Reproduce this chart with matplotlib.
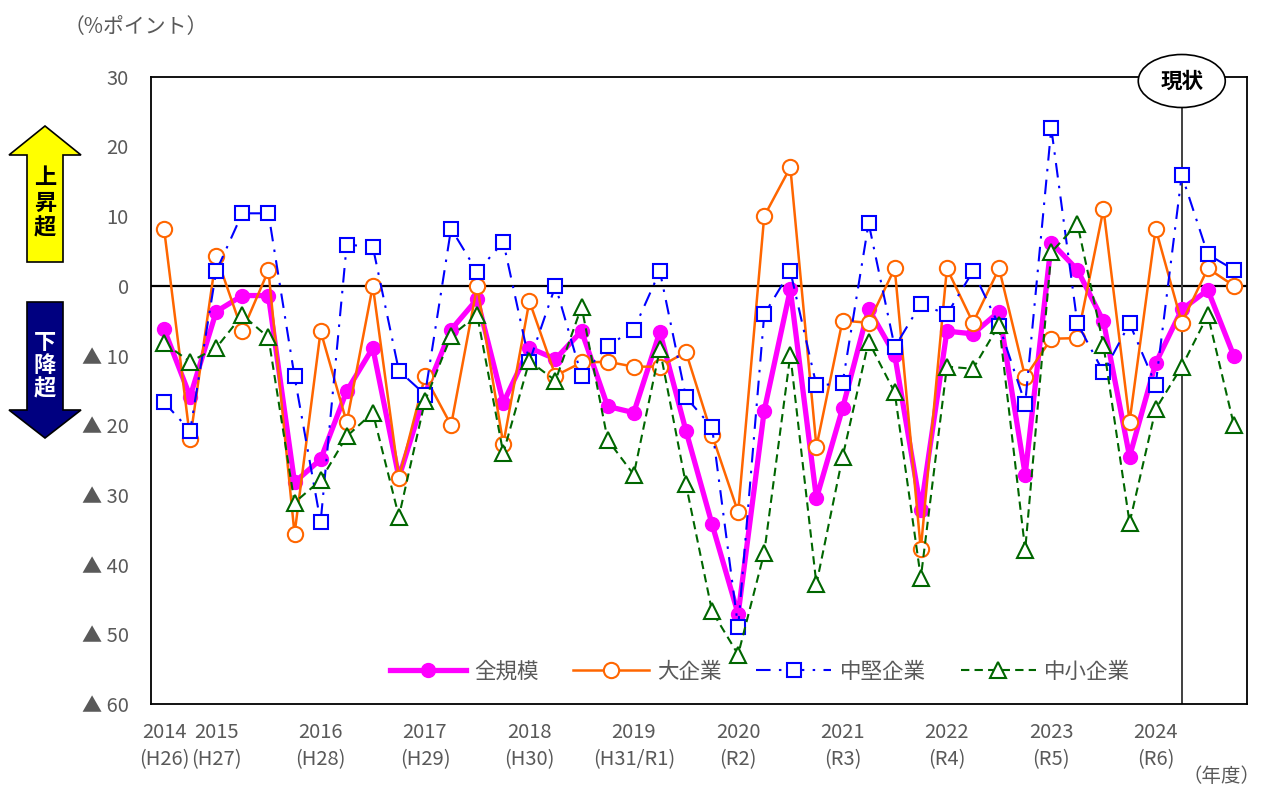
import numpy as np
import matplotlib
matplotlib.use('Agg')
import matplotlib.pyplot as plt
from matplotlib.patches import Polygon, Ellipse

plt.rcParams['font.family'] = ['Noto Sans CJK JP', 'DejaVu Sans']

# quarterly survey points (2014 - 2024)
zenkibo = [-6.2, -15.9, -3.7, -1.4, -1.4, -28.2, -24.9, -15.1, -8.9, -27.5,
           -15.5, -6.3, -1.9, -16.8, -8.9, -10.5, -6.5, -17.3, -18.2, -6.6,
           -20.8, -34.2, -47.1, -17.9, -0.5, -30.5, -17.6, -3.3, -9.9, -32.1,
           -6.5, -6.9, -3.7, -27.1, 6.2, 2.3, -5.1, -24.5, -11.1, -3.4,
           -0.6, -10.1]
daikigyo = [8.2, -22.0, 4.3, -6.5, 2.2, -35.6, -6.5, -19.6, 0.0, -27.6,
            -13.0, -20.0, 0.0, -22.7, -2.2, -12.9, -11.0, -10.9, -11.6, -11.6,
            -9.5, -21.4, -32.5, 10.0, 17.0, -23.1, -5.0, -5.3, 2.5, -37.8,
            2.5, -5.3, 2.5, -13.1, -7.6, -7.5, 11.0, -19.5, 8.2, -5.3,
            2.5, 0.0]
chuken = [-16.7, -20.8, 2.1, 10.4, 10.4, -13.0, -33.9, 5.9, 5.6, -12.2,
          -15.6, 8.2, 2.0, 6.3, -10.9, 0.0, -12.9, -8.6, -6.3, 2.1,
          -16.0, -20.3, -49.0, -4.1, 2.1, -14.3, -14.0, 9.0, -8.8, -2.6,
          -4.1, 2.1, -5.7, -16.9, 22.6, -5.4, -12.4, -5.4, -14.2, 15.9,
          4.5, 2.3]
chusho = [-8.2, -10.9, -8.9, -4.2, -7.4, -31.1, -27.9, -21.6, -18.2, -33.1,
          -16.5, -7.2, -4.2, -24.0, -10.8, -13.6, -3.0, -22.1, -27.1, -9.1,
          -28.5, -46.7, -52.9, -38.3, -9.9, -42.8, -24.6, -8.0, -15.3, -41.9,
          -11.6, -11.9, -5.6, -37.9, 4.8, 8.9, -8.5, -34.0, -17.7, -11.6,
          -4.2, -20.0]

year_pos = [0, 2, 6, 10, 14, 18, 22, 26, 30, 34, 38]
year_labels = ['2014\n(H26)', '2015\n(H27)', '2016\n(H28)', '2017\n(H29)',
               '2018\n(H30)', '2019\n(H31/R1)', '2020\n(R2)', '2021\n(R3)',
               '2022\n(R4)', '2023\n(R5)', '2024\n(R6)']
y_ticks = [30, 20, 10, 0, -10, -20, -30, -40, -50, -60]
y_labels = ['30', '20', '10', '0', '▲ 10', '▲ 20', '▲ 30', '▲ 40', '▲ 50', '▲ 60']
now_idx = 39

GRAY = '#595959'
W, H = 1263, 791


def main():
    fig = plt.figure(figsize=(W / 100, H / 100), dpi=100)
    ax = fig.add_axes([151 / W, 1 - 704 / H, 1096 / W, 627.3 / H])
    x = np.arange(len(zenkibo))

    ax.plot(x, zenkibo, color='#FF00FF', lw=3.8, marker='o', ms=10,
            label='全規模', zorder=3)
    ax.plot(x, daikigyo, color='#FF6600', lw=1.8, marker='o', ms=11,
            mfc='white', mew=1.5, label='大企業', zorder=4)
    ax.plot(x, chuken, color='#0000FF', lw=1.5, marker='s', ms=10,
            mfc='white', mew=1.5, dashes=(7, 4, 1.2, 4), label='中堅企業', zorder=5)
    ax.plot(x, chusho, color='#006600', lw=1.5, marker='^', ms=11,
            mfc='white', mew=1.5, dashes=(4, 2.5), label='中小企業', zorder=6)

    ax.axhline(0, color='black', lw=1.6, zorder=2)
    ax.axvline(now_idx, color='#404040', lw=1.4, zorder=2)

    ax.set_xlim(-0.5, len(zenkibo) - 0.5)
    ax.set_ylim(-60, 30)
    ax.set_xticks(year_pos)
    ax.set_xticklabels(year_labels, fontsize=14.5, color=GRAY, linespacing=1.4)
    ax.set_yticks(y_ticks)
    ax.set_yticklabels(y_labels, fontsize=14.5, color=GRAY)
    ax.tick_params(axis='y', length=0, pad=16)
    ax.tick_params(axis='x', length=0, pad=13)
    for s in ax.spines.values():
        s.set_color('black')
        s.set_linewidth(1.3)

    ax.legend(loc='center', bbox_to_anchor=(0.556, 0.051), ncol=4,
              frameon=False, fontsize=15.5, labelcolor=GRAY, handlelength=3.5,
              handletextpad=0.4, columnspacing=1.6, numpoints=1)

    # overlay in pixel coords for the decorations
    ov = fig.add_axes([0, 0, 1, 1], zorder=10)
    ov.set_xlim(0, W)
    ov.set_ylim(H, 0)
    ov.axis('off')

    up = [(27, 262), (27, 155), (9, 155), (45, 126), (81, 155), (63, 155), (63, 262)]
    down = [(27, 302), (63, 302), (63, 410), (81, 410), (45, 438), (9, 410), (27, 410)]
    ov.add_patch(Polygon(up, closed=True, fc='#FFFF00', ec='black', lw=1.2))
    ov.add_patch(Polygon(down, closed=True, fc='#000080', ec='black', lw=1.2))
    ov.text(45, 203, '上\n昇\n超', ha='center', va='center', fontsize=16,
            fontweight='bold', color='black', linespacing=1.12)
    ov.text(45, 366, '下\n降\n超', ha='center', va='center', fontsize=16,
            fontweight='bold', color='white', linespacing=1.02)

    xn = ax.transData.transform((now_idx, 0))[0]
    ov.add_patch(Ellipse((xn, 81), 87, 53, fc='white', ec='black', lw=1.2))
    ov.text(xn, 81, '現状', ha='center', va='center', fontsize=15.5,
            fontweight='bold', color='black')

    ov.text(64, 27, '（%ポイント）', ha='left', va='center', fontsize=15, color=GRAY)
    ov.text(1261, 777, '（年度）', ha='right', va='center', fontsize=14, color=GRAY)

    fig.savefig('out.png', dpi=100)


if __name__ == "__main__":
    main()
